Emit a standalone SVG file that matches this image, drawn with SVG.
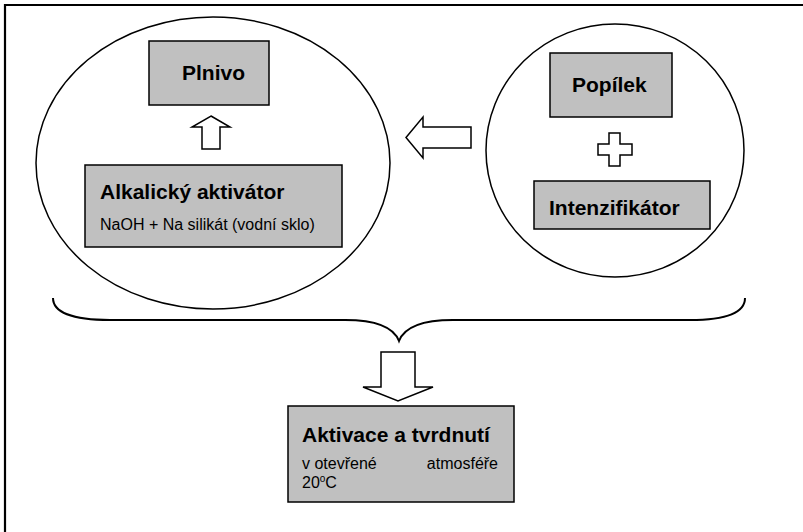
<svg xmlns="http://www.w3.org/2000/svg" width="803" height="532" viewBox="0 0 803 532">
<defs>
<style>
.box{fill:#c0c0c0;stroke:#000;stroke-width:1.5}
.oval{fill:#fff;stroke:#000;stroke-width:1.5}
.blk{fill:#fff;stroke:#000;stroke-width:1.5;stroke-linejoin:miter}
.t{font-family:"Liberation Sans",Arial,sans-serif;font-weight:bold;font-size:21px;fill:#000}
.s{font-family:"Liberation Sans",Arial,sans-serif;font-size:16px;fill:#000}
</style>
</defs>
<rect width="803" height="532" fill="#fff"/>
<path d="M5,532 V5 H803" fill="none" stroke="#000" stroke-width="2.2"/>
<g id="group-left">
<ellipse class="oval" cx="213" cy="163" rx="177" ry="146"/>
</g>
<g id="group-right">
<ellipse class="oval" cx="615" cy="150.5" rx="129" ry="126.5"/>
</g>
<g id="plnivo">
<rect class="box" x="149" y="41" width="120" height="64"/>
<text class="t" x="182" y="80">Plnivo</text>
</g>
<g id="alkalicky-aktivator">
<rect class="box" x="85" y="165" width="257" height="82"/>
<text class="t" x="100" y="199">Alkalický aktivátor</text>
<text class="s" x="100" y="230">NaOH + Na silikát (vodní sklo)</text>
</g>
<g id="popilek">
<rect class="box" x="550" y="53" width="122" height="64"/>
<text class="t" x="572" y="92">Popílek</text>
</g>
<g id="intenzifikator">
<rect class="box" x="534" y="181" width="176" height="48"/>
<text class="t" x="549" y="215">Intenzifikátor</text>
</g>
<g id="aktivace">
<rect class="box" x="288" y="406" width="226" height="96"/>
<text class="t" x="302" y="442">Aktivace a tvrdnutí</text>
<text class="s" x="302" y="469">v otevřené</text>
<text class="s" x="498" y="469" text-anchor="end">atmosféře</text>
<text class="s" x="302" y="488">20<tspan dy="-6" font-size="10">o</tspan><tspan dy="6">C</tspan></text>
</g>
<g id="plus">
<path class="blk" d="M609,133 H620 V144 H632 V155 H620 V166 H609 V155 H598 V144 H609 Z"/>
</g>
<g id="connectors">
<path class="blk" d="M211,116 L230,127 H220 V149 H202 V127 H192 Z"/>
<path class="blk" d="M406,137.5 L423,117 V127 H471 V148 H423 V158 Z"/>
<path d="M53,298 C53,312 72,320 110,320 L345,320 C378,320 394,328 399,341 C404,328 420,320 453,320 L690,320 C728,320 745,312 745,298" fill="none" stroke="#000" stroke-width="2"/>
<path class="blk" d="M381,352 H415 V387 H433 L398,401 L363,387 H381 Z"/>
</g>
</svg>
